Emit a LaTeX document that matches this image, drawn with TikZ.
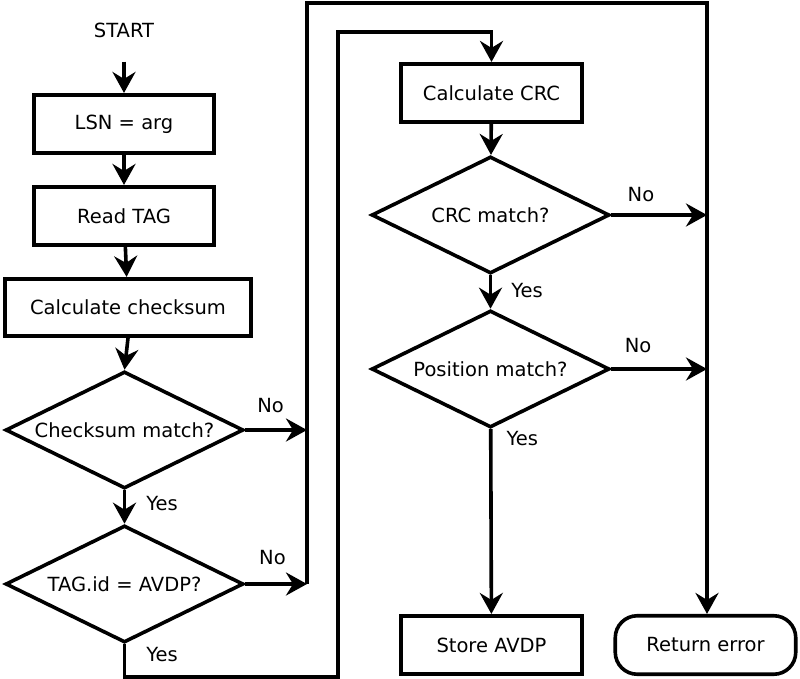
\documentclass[tikz,border=0pt]{standalone}
\usepackage{fontspec}
\setmainfont{DejaVu Sans}
\usetikzlibrary{shapes.geometric,arrows.meta,positioning}
\newcommand{\letra}{\fontsize{19.5}{23}\selectfont}
\begin{document}
\begin{tikzpicture}[x=1pt,y=-1pt,
    caja/.style={draw, line width=3.6pt, minimum width=180.5pt, minimum height=58.5pt, inner sep=0pt, font=\letra},
    rombo/.style={draw, diamond, aspect=2, line width=3.6pt, minimum width=238pt, minimum height=117pt, inner sep=0pt, font=\letra},
    flecha/.style={-{Stealth[length=21pt,width=23pt,inset=7pt]}, line width=3.6pt},
    etiq/.style={inner sep=0pt, font=\letra}]
    \useasboundingbox (0,0) rectangle (800,679);
    % Cajas
    \node[etiq] (start) at (124,30) {START};
    \node[caja] (lsn) at (124,124) {LSN = arg};
    \node[caja] (read) at (124,216) {Read TAG};
    \node[caja, minimum width=246.5pt, minimum height=57.5pt] (chk) at (128,307.5) {Calculate checksum};
    \node[rombo] (dchk) at (124.5,430) {Checksum match?};
    \node[rombo] (dtag) at (124.5,584) {TAG.id = AVDP?};
    \node[caja] (crc) at (491.5,93) {Calculate CRC};
    \node[rombo] (dcrc) at (490.5,215) {CRC match?};
    \node[rombo] (dpos) at (490.5,369) {Position match?};
    \node[caja] (store) at (491.5,645) {Store AVDP};
    \node[caja, rounded corners=22pt] (err) at (705.5,645) {Return error};
    % Esquinas
    \coordinate (cn) at (307,3);
    \coordinate (ce) at (707,3);
    \coordinate (by) at (338,677);
    \coordinate (bt) at (338,32);
    % Flechas
    \draw[flecha] ([yshift=-24pt]start.south) -- (lsn);
    \draw[flecha] (lsn) -- (read);
    \draw[flecha] (read) -- (chk);
    \draw[flecha] (chk.south) -- (dchk.north);
    \draw[flecha] (dchk) -- node[etiq, right=20pt, pos=0.4] {Yes} (dtag);
    \draw[flecha] (dchk.east) -- node[etiq, above=15pt, pos=0.41] {No} (dchk.east -| cn);
    \draw[flecha] (dtag.east) -- node[etiq, above=17pt, pos=0.44] {No} (dtag.east -| cn);
    \draw[flecha] (dtag.east -| cn) -- (cn) -- (ce) -- (ce |- err.north);
    \draw[flecha] (dtag.south) -- node[etiq, right=20pt, pos=0.3] {Yes} (dtag.south |- by) -- (by) -- (bt) -- (bt -| crc.north) -- (crc.north);
    \draw[flecha] (crc) -- (dcrc);
    \draw[flecha] (dcrc) -- node[etiq, right=19pt, pos=0.45] {Yes} (dpos);
    \draw[flecha] (dcrc.east) -- node[etiq, above=11pt, pos=0.31] {No} (dcrc.east -| ce);
    \draw[flecha] (dpos.east) -- node[etiq, above=14pt, pos=0.28] {No} (dpos.east -| ce);
    \draw[flecha] (dpos) -- node[etiq, right=14pt, pos=0.05] {Yes} (store);
\end{tikzpicture}
\end{document}
